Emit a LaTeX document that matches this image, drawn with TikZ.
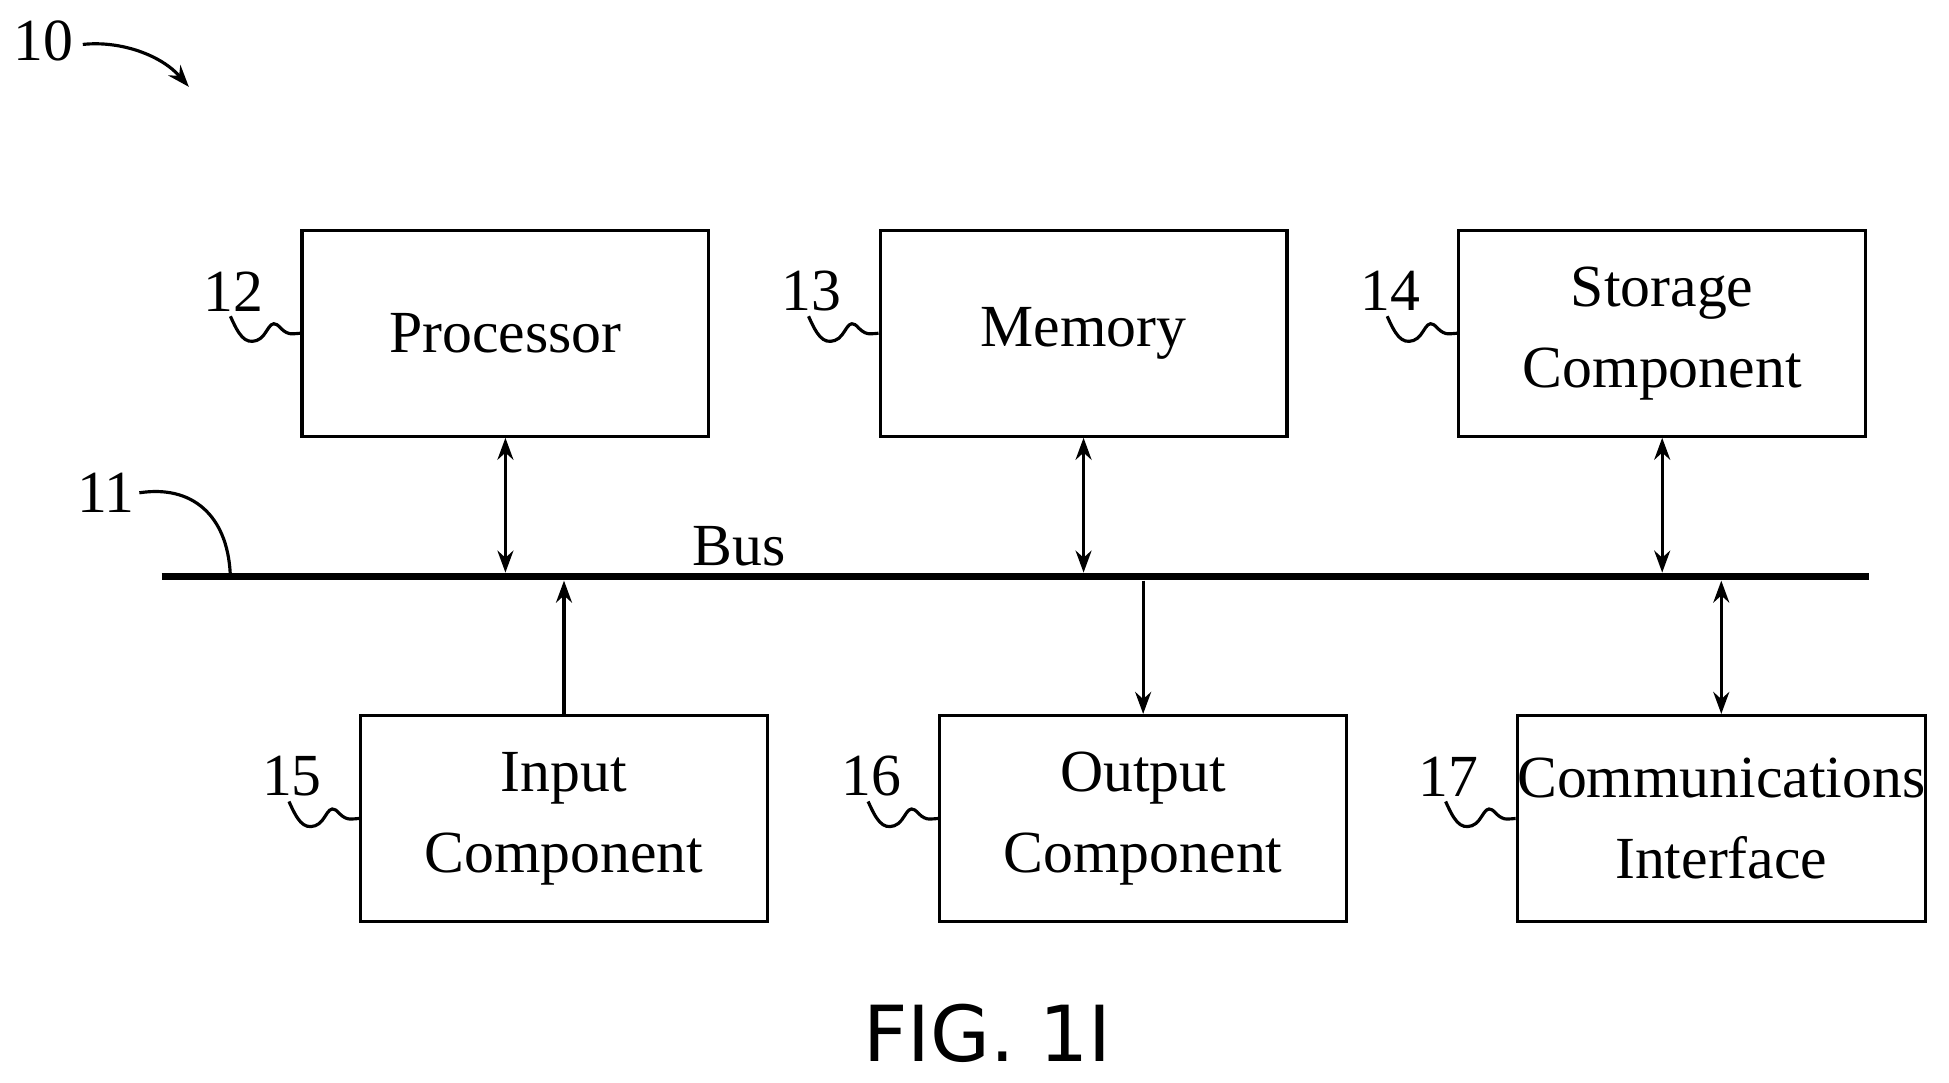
\documentclass[tikz,border=0pt]{standalone}
\usepackage{fontspec}
\setmainfont{Liberation Serif}
\newfontfamily\figfont{DejaVu Sans}
\usetikzlibrary{arrows.meta}
\begin{document}
\begin{tikzpicture}[x=0.0101cm,y=-0.0101cm,
  box/.style={draw,line width=0.9pt,minimum width=4.07cm,minimum height=2.06cm,align=center,font=\fontsize{17}{21}\selectfont,inner sep=0pt},
  lbl/.style={font=\fontsize{17}{20}\selectfont},
  conn/.style={line width=0.9pt,-{Stealth[length=0.22cm,width=0.16cm]}},
  dconn/.style={line width=0.9pt,{Stealth[length=0.22cm,width=0.16cm]}-{Stealth[length=0.22cm,width=0.16cm]}}]
\useasboundingbox (0,0) rectangle (1930,1072);
\node[box] (p) at (500.5,330) {Processor};
\node[box] (m) at (1073,330) {Memory};
\node[box] (s) at (1646,330) {Storage\\[2pt]Component};
\node[box] (i) at (558.5,810.5) {Input\\[2pt]Component};
\node[box] (o) at (1132,810.5) {Output\\[2pt]Component};
\node[box] (c) at (1704.5,810.5) {Communications\\[2pt]Interface};
\coordinate (bl) at (160,571);
\coordinate (br) at (1851,571);
\draw[line width=2.1pt] (bl) -- (br);
\node[lbl] (bus) at (732,541) {Bus};
\coordinate (bp) at (500.5,567);
\coordinate (bm) at (1073,567);
\coordinate (bs) at (1646,567);
\coordinate (bi) at (558.5,575);
\coordinate (bo) at (1132,575);
\coordinate (bc) at (1704.5,575);
\draw[dconn] (p.south) -- (bp);
\draw[dconn] (m.south) -- (bm);
\draw[dconn] (s.south) -- (bs);
\draw[conn] (i.north) -- (bi);
\draw[conn] (bo) -- (o.north);
\draw[dconn] (bc) -- (c.north);
\foreach \b/\t in {p/12,m/13,s/14,i/15,o/16,c/17}{
  \node[lbl] (l\t) at ([xshift=-0.67cm,yshift=0.42cm]\b.west) {\t};
  \draw[line width=0.9pt] ([xshift=-0.70cm,yshift=0.17cm]\b.west) .. controls +(8,18) and +(-12,4) .. ++(26,24) .. controls +(12,-4) and +(-12,-14) .. ++(24,-12) .. controls +(8,8) and +(-6,0) .. (\b.west);
}
\node[lbl] (l11) at (105,488) {11};
\coordinate (c11) at (228,568);
\draw[line width=0.9pt] (138,488) .. controls (190,480) and (225,510) .. (c11);
\node[lbl] (l10) at (43,41) {10};
\coordinate (a10) at (187,86);
\draw[conn] (82,44) .. controls (120,40) and (160,55) .. (a10);
\node[font=\figfont\fontsize{22}{26}\selectfont] (fig) at (978,1023) {FIG. 1I};
\end{tikzpicture}
\end{document}
